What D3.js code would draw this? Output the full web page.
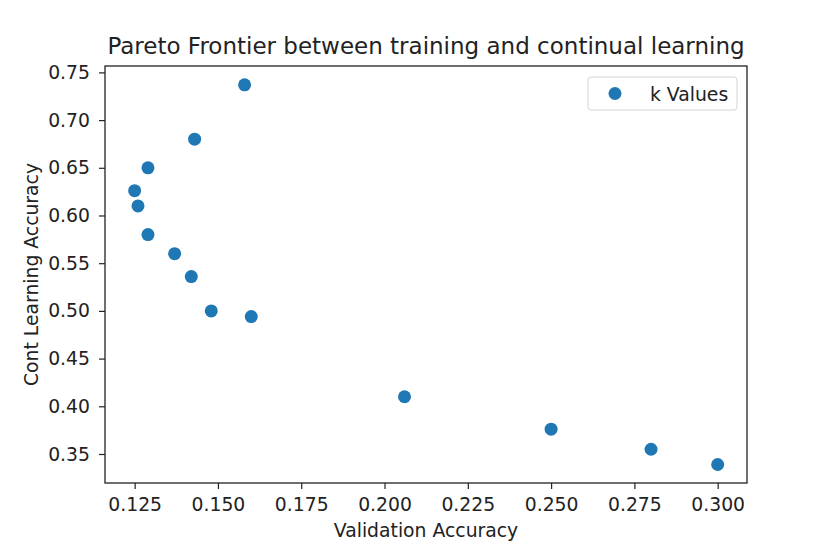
<!DOCTYPE html>
<html>
<head>
<meta charset="utf-8">
<script src="https://cdn.jsdelivr.net/npm/d3@7"></script>
<style>
  html, body { margin: 0; padding: 0; background: #fff; }
  svg { display: block; font-family: "DejaVu Sans", sans-serif; }
</style>
</head>
<body>
<svg id="chart" width="830" height="553"></svg>
<script>
const validationAccuracy = [0.158, 0.143, 0.129, 0.125, 0.126, 0.129, 0.137, 0.142, 0.148, 0.160, 0.206, 0.250, 0.280, 0.300];
const contLearningAccuracy = [0.737, 0.680, 0.650, 0.626, 0.610, 0.580, 0.560, 0.536, 0.500, 0.494, 0.410, 0.376, 0.355, 0.339];
const xTicks = [0.125, 0.150, 0.175, 0.200, 0.225, 0.250, 0.275, 0.300];
const yTicks = [0.35, 0.40, 0.45, 0.50, 0.55, 0.60, 0.65, 0.70, 0.75];
const seriesName = "k Values";
const chartTitle = "Pareto Frontier between training and continual learning";
const xLabel = "Validation Accuracy";
const yLabel = "Cont Learning Accuracy";

(function () {
const svg = d3.select("#chart");
const mLeft = 105, mRight = 747, mTop = 66, mBottom = 483;
const color = "#1f77b4";
const fs = "18.8px";

const x = d3.scaleLinear().domain([0.1161, 0.3088]).range([mLeft, mRight]);
const y = d3.scaleLinear().domain([0.3196, 0.7567]).range([mBottom, mTop]);

const data = validationAccuracy.map((v, i) => ({ x: v, y: contLearningAccuracy[i] }));

// points
svg.append("g").selectAll("circle").data(data).join("circle")
  .attr("cx", d => x(d.x)).attr("cy", d => y(d.y)).attr("r", 6.5)
  .attr("fill", color);

// axes
const xAxis = svg.append("g").attr("transform", `translate(0,${mBottom})`)
  .call(d3.axisBottom(x).tickValues(xTicks).tickFormat(d3.format(".3f")).tickSize(6).tickPadding(9));
const yAxis = svg.append("g").attr("transform", `translate(${mLeft},0)`)
  .call(d3.axisLeft(y).tickValues(yTicks).tickFormat(d3.format(".2f")).tickSize(6).tickPadding(9));
[xAxis, yAxis].forEach(g => {
  g.select(".domain").remove();
  g.selectAll(".tick line").attr("stroke", "#222").attr("stroke-width", 1.2);
  g.selectAll(".tick text").attr("fill", "#222").style("font-size", fs).style("font-family", "DejaVu Sans");
});

// frame
svg.append("rect").attr("x", mLeft).attr("y", mTop).attr("width", mRight - mLeft).attr("height", mBottom - mTop)
  .attr("fill", "none").attr("stroke", "#222").attr("stroke-width", 1.3);

// title & labels
svg.append("text").attr("x", (mLeft + mRight) / 2).attr("y", 54).attr("text-anchor", "middle")
  .style("font-size", "23px").attr("fill", "#222").text(chartTitle);
svg.append("text").attr("x", (mLeft + mRight) / 2).attr("y", 537).attr("text-anchor", "middle")
  .style("font-size", fs).attr("fill", "#222").text(xLabel);
svg.append("text").attr("transform", `translate(38,${(mTop + mBottom) / 2}) rotate(-90)`).attr("text-anchor", "middle")
  .style("font-size", fs).attr("fill", "#222").text(yLabel);

// legend
const lg = svg.append("g");
lg.append("rect").attr("x", 588).attr("y", 77).attr("width", 149).attr("height", 33).attr("rx", 3)
  .attr("fill", "#fff").attr("fill-opacity", 0.8).attr("stroke", "#d5d5d5").attr("stroke-width", 1);
lg.append("circle").attr("cx", 615).attr("cy", 93.5).attr("r", 6.5).attr("fill", color);
lg.append("text").attr("x", 650).attr("y", 100.5).style("font-size", fs).attr("fill", "#222").text(seriesName);
})();
</script>
</body>
</html>
